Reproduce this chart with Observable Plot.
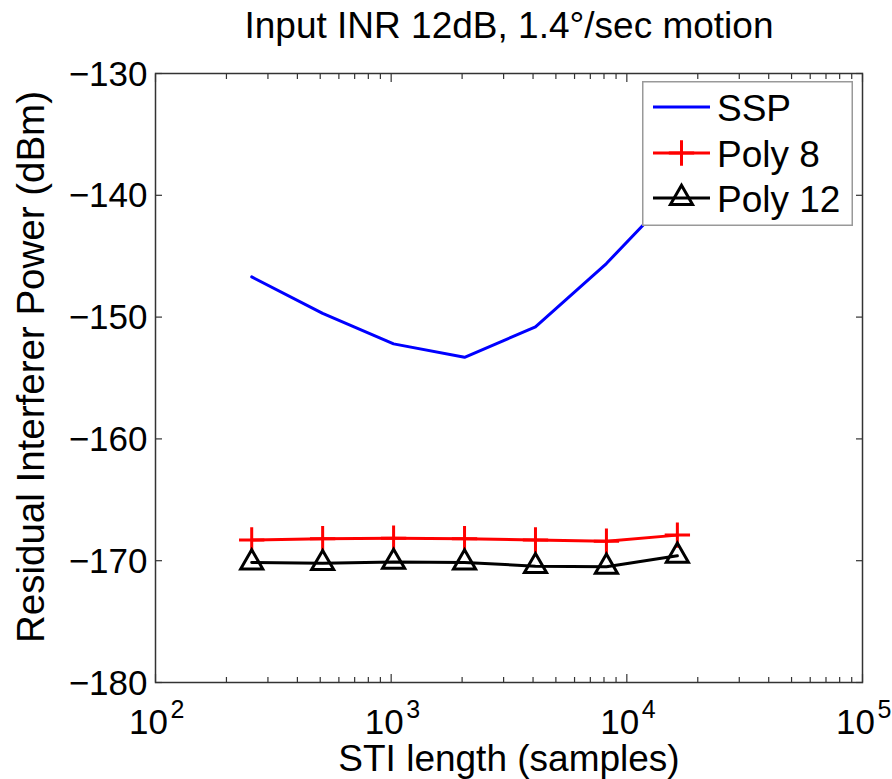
<!DOCTYPE html>
<html>
<head>
<meta charset="utf-8">
<script src="https://cdn.jsdelivr.net/npm/d3@7"></script>
<script src="https://cdn.jsdelivr.net/npm/@observablehq/plot@0.6"></script>
<style>
  html, body { margin: 0; padding: 0; background: #fff; }
  #wrap { position: relative; width: 892px; height: 779px; font-family: "Liberation Sans", Arial, Helvetica, sans-serif; }
  #legend { position: absolute; left: 642px; top: 81px; }
</style>
</head>
<body>
<div id="wrap"></div>
<script>
// ---- data ----
const stiLength = [256, 512, 1024, 2048, 4096, 8192, 16384];
const sspPower   = [-146.7, -149.7, -152.2, -153.3, -150.8, -145.6, -139.5];
const poly8Power = [-168.3, -168.2, -168.15, -168.2, -168.3, -168.4, -167.9];
const poly12Power= [-170.15, -170.2, -170.1, -170.15, -170.45, -170.5, -169.6];

const xMajorTicks = [100, 1000, 10000, 100000];
const xMinorTicks = [2,3,4,5,6,7,8,9].flatMap(m => [100, 1000, 10000].map(d => m * d));
const yTicks = [-180, -170, -160, -150, -140, -130];

const seriesNames = ["SSP", "Poly 8", "Poly 12"];
const seriesColors = ["#0000ff", "#ff0000", "#000000"];

const titleText = "Input INR 12dB, 1.4°/sec motion";
const xLabel = "STI length (samples)";
const yLabel = "Residual Interferer Power (dBm)";

// ---- tables built from arrays ----
const ssp = stiLength.map((x, i) => ({x, y: sspPower[i]}));
const poly8 = stiLength.map((x, i) => ({x, y: poly8Power[i]}));
const poly12 = stiLength.map((x, i) => ({x, y: poly12Power[i]}));

const axisColor = "#333";
const font = "Liberation Sans, Arial, Helvetica, sans-serif";

const tickAxes = [
  Plot.axisX({ticks: xMajorTicks, anchor: "bottom", tickSize: 8, dy: -8, tickFormat: () => "", label: null, stroke: axisColor, strokeWidth: 1.2}),
  Plot.axisX({ticks: xMinorTicks, anchor: "bottom", tickSize: 5, dy: -5, tickFormat: () => "", label: null, stroke: axisColor, strokeWidth: 1.2}),
  Plot.axisX({ticks: xMajorTicks, anchor: "top", tickSize: 8, dy: 8, tickFormat: () => "", label: null, stroke: axisColor, strokeWidth: 1.2}),
  Plot.axisX({ticks: xMinorTicks, anchor: "top", tickSize: 5, dy: 5, tickFormat: () => "", label: null, stroke: axisColor, strokeWidth: 1.2}),
  Plot.axisY({ticks: yTicks, anchor: "left", tickSize: 7, dx: 7, tickFormat: () => "", label: null, stroke: axisColor, strokeWidth: 1.2}),
  Plot.axisY({ticks: yTicks, anchor: "right", tickSize: 7, dx: -7, tickFormat: () => "", label: null, stroke: axisColor, strokeWidth: 1.2})
];

const chart = Plot.plot({
  width: 892,
  height: 779,
  marginLeft: 155,
  marginRight: 30,
  marginTop: 73,
  marginBottom: 97,
  style: {fontFamily: font, background: "#fff", overflow: "visible"},
  x: {type: "log", domain: [100, 100000]},
  y: {domain: [-180, -130]},
  marks: [
    ...tickAxes,
    Plot.frame({stroke: axisColor, strokeWidth: 1.5}),
    // y tick labels
    Plot.text(yTicks, {y: d => d, frameAnchor: "left", text: d => String(d).replace("-", "\u2212"),
      textAnchor: "end", lineAnchor: "bottom", dx: -8, dy: 12, fontSize: 35, fill: "#000"}),
    // x tick labels: "10" + exponent
    Plot.text(xMajorTicks, {x: d => d, frameAnchor: "bottom", text: () => "10",
      textAnchor: "middle", lineAnchor: "bottom", dx: -7, dy: 51, fontSize: 35, fill: "#000"}),
    Plot.text(xMajorTicks, {x: d => d, frameAnchor: "bottom", text: d => String(Math.round(Math.log10(d))),
      textAnchor: "start", lineAnchor: "bottom", dx: 15, dy: 35, fontSize: 25, fill: "#000"}),
    // axis labels and title
    Plot.text([xLabel], {frameAnchor: "bottom", text: d => d, textAnchor: "middle", lineAnchor: "bottom", dy: 88, fontSize: 37, fill: "#000"}),
    Plot.text([yLabel], {frameAnchor: "left", text: d => d, textAnchor: "middle", rotate: -90, lineAnchor: "bottom", dx: -112, dy: -11, fontSize: 38.5, fill: "#000"}),
    Plot.text([titleText], {frameAnchor: "top", text: d => d, textAnchor: "middle", lineAnchor: "bottom", dy: -36, fontSize: 37, fill: "#000"}),
    // data
    Plot.line(ssp, {x: "x", y: "y", stroke: seriesColors[0], strokeWidth: 3}),
    Plot.line(poly8, {x: "x", y: "y", stroke: seriesColors[1], strokeWidth: 3}),
    Plot.dot(poly8, {x: "x", y: "y", symbol: "plus", r: 8.2, stroke: seriesColors[1], strokeWidth: 3}),
    Plot.line(poly12, {x: "x", y: "y", stroke: seriesColors[2], strokeWidth: 3}),
    Plot.dot(poly12, {x: "x", y: "y", symbol: "triangle", r: 8.2, stroke: seriesColors[2], strokeWidth: 3, fill: "none"})
  ]
});

const wrap = document.getElementById("wrap");
wrap.appendChild(chart);

// ---- legend (inside the axes, top-right) ----
const lw = 211, lh = 145;
const legend = d3.create("svg").attr("id", "legend").attr("width", lw).attr("height", lh)
  .style("position", "absolute").style("left", "642px").style("top", "81px");
legend.append("rect").attr("x", 0.75).attr("y", 0.75).attr("width", lw - 1.5).attr("height", lh - 1.5)
  .attr("fill", "#fff").attr("stroke", "#999").attr("stroke-width", 1.5);
const rowY = [26, 72, 117];
const symbols = [null, d3.symbolPlus, d3.symbolTriangle];
const symSize = [0, Math.PI * 8.2 * 8.2, Math.PI * 8.2 * 8.2];
seriesNames.forEach((name, i) => {
  const g = legend.append("g").attr("transform", `translate(0,${rowY[i]})`);
  g.append("line").attr("x1", 11).attr("x2", 68).attr("y1", 0).attr("y2", 0)
    .attr("stroke", seriesColors[i]).attr("stroke-width", 3);
  if (symbols[i]) {
    g.append("path").attr("d", d3.symbol(symbols[i], symSize[i])())
      .attr("transform", "translate(39.5,0)")
      .attr("fill", "none").attr("stroke", seriesColors[i]).attr("stroke-width", 3);
  }
  g.append("text").attr("x", 75).attr("y", 14).text(name)
    .attr("font-family", font).attr("font-size", 37).attr("fill", "#000");
});
wrap.appendChild(legend.node());
</script>
</body>
</html>
